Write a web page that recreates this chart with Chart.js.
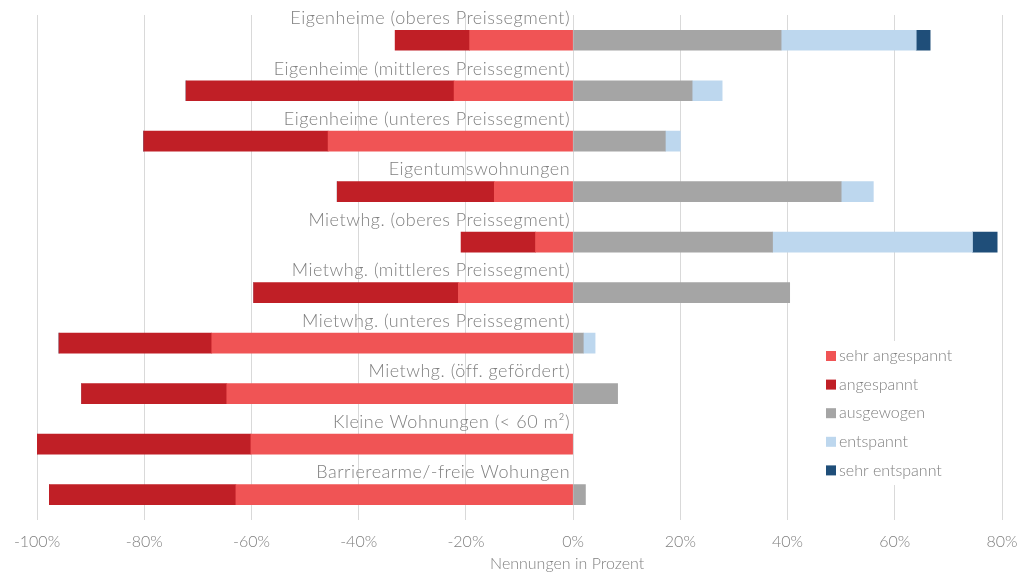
<!DOCTYPE html>
<html lang="de">
<head>
<meta charset="utf-8">
<script src="https://cdn.jsdelivr.net/npm/chart.js@4"></script>
<style>
  html, body { margin: 0; padding: 0; background: #fff; }
  #wrap { width: 1022px; height: 574px; position: relative; }
</style>
</head>
<body>
<div id="wrap"><canvas id="marketChart"></canvas></div>
<script>
// Kategorien (von oben nach unten)
const categories = [
    'Eigenheime (oberes Preissegment)',
    'Eigenheime (mittleres Preissegment)',
    'Eigenheime (unteres Preissegment)',
    'Eigentumswohnungen',
    'Mietwhg. (oberes Preissegment)',
    'Mietwhg. (mittleres Preissegment)',
    'Mietwhg. (unteres Preissegment)',
    'Mietwhg. (öff. gefördert)',
    'Kleine Wohnungen (< 60 m²)',
    'Barrierearme/-freie Wohungen'
];

// Anteile in Prozent (angespannt-Werte werden links von 0 gezeichnet)
const sehrAngespannt = [19.3, 22.2, 45.7, 14.7, 7.0, 21.4, 67.4, 64.6, 60.1, 62.9];
const angespannt     = [13.9, 50.0, 34.4, 29.3, 13.9, 38.2, 28.5, 27.1, 39.9, 34.8];
const ausgewogen     = [38.8, 22.2, 17.2, 50.0, 37.2, 40.4, 1.9, 8.3, 0, 2.3];
const entspannt      = [25.2, 5.6, 2.8, 6.0, 37.3, 0, 2.2, 0, 0, 0];
const sehrEntspannt  = [2.6, 0, 0, 0, 4.6, 0, 0, 0, 0, 0];

const xTicks = [-100, -80, -60, -40, -20, 0, 20, 40, 60, 80];
const xTitle = 'Nennungen in Prozent';

const FONT = 'Lato, "Open Sans", sans-serif';
const TEXT_COLOR = '#808080';

const neg = arr => arr.map(v => -v);

// Kategorienamen über den Balken, rechtsbündig an der 0-Linie
const categoryLabels = {
    id: 'categoryLabels',
    afterDatasetsDraw(chart) {
        const { ctx, scales: { x, y } } = chart;
        const zeroX = x.getPixelForValue(0);
        ctx.save();
        ctx.font = '300 18px ' + FONT;
        ctx.letterSpacing = '0.5px';
        ctx.fillStyle = TEXT_COLOR;
        ctx.textAlign = 'right';
        ctx.textBaseline = 'middle';
        chart.data.labels.forEach((label, i) => {
            ctx.fillText(label, zeroX - 3, y.getPixelForValue(i) - 22);
        });
        ctx.restore();
    }
};

// Legende rechts unten + Achsentitel
const sideLegend = {
    id: 'sideLegend',
    afterDatasetsDraw(chart) {
        const { ctx, scales: { x } } = chart;
        const left = 826, top = 356, step = 28.6;
        ctx.save();
        ctx.fillStyle = '#fff';
        ctx.fillRect(815, 341, 175, 144);
        ctx.font = '300 16px ' + FONT;
        ctx.textBaseline = 'middle';
        ctx.textAlign = 'left';
        chart.data.datasets.forEach((ds, i) => {
            const cy = top + i * step;
            ctx.fillStyle = ds.backgroundColor;
            ctx.fillRect(left, cy - 5, 10, 10);
            ctx.fillStyle = TEXT_COLOR;
            ctx.fillText(ds.label, left + 13, cy);
        });
        // Achsentitel (leicht links von der 0-Linie, wie im Original)
        ctx.textAlign = 'center';
        ctx.fillText(xTitle, x.getPixelForValue(0) - 6, 564);
        ctx.restore();
    }
};

new Chart(document.getElementById('marketChart'), {
    type: 'bar',
    data: {
        labels: categories,
        datasets: [
            { label: 'sehr angespannt', data: neg(sehrAngespannt), backgroundColor: '#F05455' },
            { label: 'angespannt', data: neg(angespannt), backgroundColor: '#C01F26' },
            { label: 'ausgewogen', data: ausgewogen, backgroundColor: '#A5A5A5' },
            { label: 'entspannt', data: entspannt, backgroundColor: '#BDD7EE' },
            { label: 'sehr entspannt', data: sehrEntspannt, backgroundColor: '#1F4E79' }
        ]
    },
    options: {
        indexAxis: 'y',
        responsive: true,
        maintainAspectRatio: false,
        animation: false,
        barThickness: 20,
        layout: { padding: { top: 15, left: 37, right: 20, bottom: 11 } },
        scales: {
            x: {
                stacked: true,
                min: -100,
                max: 80,
                afterBuildTicks: scale => { scale.ticks = xTicks.map(v => ({ value: v })); },
                afterFit: scale => { scale.paddingLeft = 0; scale.paddingRight = 0; },
                grid: { color: '#d9d9d9', drawTicks: false },
                border: { display: false },
                ticks: {
                    padding: 12,
                    color: TEXT_COLOR,
                    font: { family: FONT, size: 16, weight: 300 },
                    callback: v => v + '%'
                }
            },
            y: {
                stacked: true,
                display: false
            }
        },
        plugins: {
            legend: { display: false },
            tooltip: { enabled: false }
        }
    },
    plugins: [categoryLabels, sideLegend]
});
</script>
</body>
</html>
